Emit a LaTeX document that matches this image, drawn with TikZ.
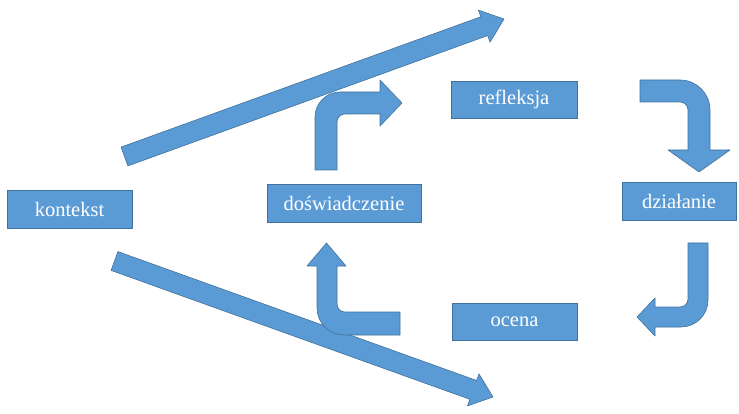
\documentclass[tikz,border=0pt]{standalone}
\usepackage{fontspec}
\setmainfont{Liberation Serif}
\usetikzlibrary{calc}
\definecolor{boxblue}{HTML}{5B9BD5}
\definecolor{boxedge}{HTML}{41719C}
\tikzset{
	box/.style={draw=boxedge, fill=boxblue, line width=0.8pt, text=white,
		minimum height=38pt, inner sep=0pt, font=\fontsize{20.5pt}{24pt}\selectfont},
	shapearrow/.style={draw=boxedge, fill=boxblue, line width=0.6pt, line join=round}
}
\newcommand{\blockarrow}[5] % tail, tip, shaft half width, head half width, head length
{
	% point where the head starts
	\coordinate (headbase) at ($(#2)!#5!(#1)$);
	% shaft and head in one outline
	\draw[shapearrow] ($(#1)!#3!90:(#2)$) -- ($(headbase)!#3!90:(#2)$)
		-- ($(headbase)!#4!90:(#2)$) -- (#2) -- ($(headbase)!#4!-90:(#2)$)
		-- ($(headbase)!#3!-90:(#2)$) -- ($(#1)!#3!-90:(#2)$) -- cycle;
}

\begin{document}
\begin{tikzpicture}[x=1pt, y=-1pt]
	% canvas 739 x 414, y grows downward
	\useasboundingbox (0,0) rectangle (739,414);
	
	% boxes
	\node[box, minimum width=125pt] (kontekst) at (69.5,209) {kontekst};
	\node[box, minimum width=154pt] (doswiadczenie) at (344,203) {doświadczenie};
	\node[box, minimum width=126pt, minimum height=37pt] (refleksja) at (514,99.5) {refleksja};
	\node[box, minimum width=114pt] (dzialanie) at (679,201) {działanie};
	\node[box, minimum width=125pt, minimum height=37pt] (ocena) at (514.5,321.5) {ocena};
	
	% straight arrows leaving kontekst
	\coordinate (uptail) at (124.5,156.5);
	\coordinate (uptip) at (504,19);
	\coordinate (downtail) at (114.5,261);
	\coordinate (downtip) at (493,397);
	\blockarrow{uptail}{uptip}{10pt}{17pt}{21pt}
	\blockarrow{downtail}{downtip}{10pt}{17pt}{21pt}
	
	% bent arrows round the cycle
	% doswiadczenie -> refleksja
	\draw[shapearrow] (315,170) -- (315,117) .. controls (315,103.2) and (326.2,92) .. (340,92)
		-- (380,92) -- (380,80) -- (402,103) -- (380,126) -- (380,114) -- (345,114)
		.. controls (340.6,114) and (337,117.6) .. (337,122) -- (337,170) -- cycle;
	% refleksja -> dzialanie
	\draw[shapearrow] (640,80) -- (680,80) .. controls (696.6,80) and (710,93.4) .. (710,110)
		-- (710,150) -- (730,150) -- (699,172) -- (668,150) -- (688,150) -- (688,110)
		.. controls (688,105.6) and (684.4,102) .. (680,102) -- (640,102) -- cycle;
	% dzialanie -> ocena
	\draw[shapearrow] (688,243) -- (708,243) -- (708,300) .. controls (708,314.9) and (695.9,327) .. (681,327)
		-- (655,327) -- (655,336) -- (637,317) -- (655,298) -- (655,307) -- (680,307)
		.. controls (684.4,307) and (688,303.4) .. (688,299) -- cycle;
	% ocena -> doswiadczenie
	\draw[shapearrow] (400,312) -- (345,312) .. controls (340.6,312) and (337,308.4) .. (337,304)
		-- (337,266) -- (346,266) -- (326.5,243) -- (307,266) -- (317,266) -- (317,308)
		.. controls (317,322.9) and (329.1,335) .. (344,335) -- (400,335) -- cycle;
\end{tikzpicture}
\end{document}
